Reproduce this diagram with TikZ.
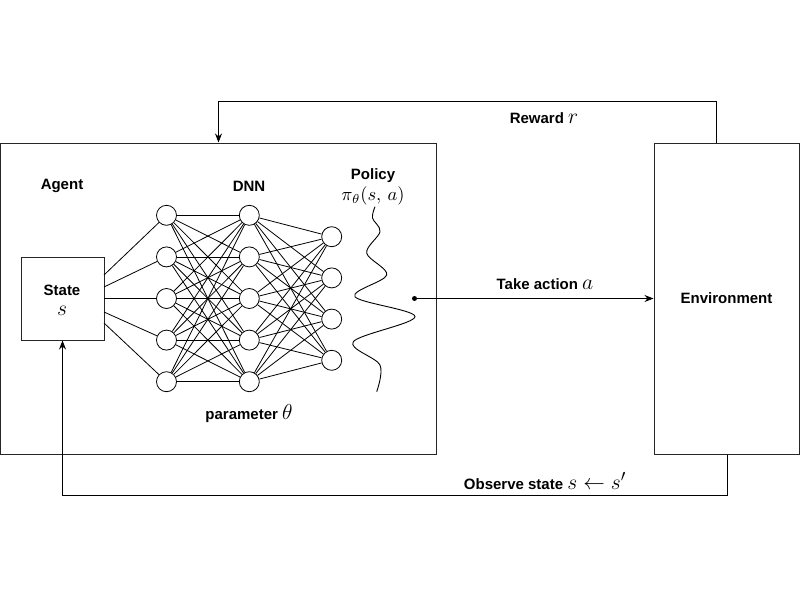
\documentclass[tikz,border=0pt]{standalone}
\usepackage{fontspec}
\usepackage{graphicx}
\setmainfont{Liberation Sans}
\usetikzlibrary{arrows.meta,calc}
\newcommand\mth[1]{\scalebox{1.5}{$#1$}}
\begin{document}
\begin{tikzpicture}[x=1pt,y=-1pt,
  panel/.style={draw=black!85,line width=1pt,inner sep=0pt,rectangle},
  neuron/.style={draw,circle,line width=0.8pt,minimum size=20pt,inner sep=0pt,fill=white},
  lbl/.style={font=\fontsize{15}{18}\selectfont\bfseries,inner sep=1pt},
  arr/.style={line width=0.9pt,-{Stealth[length=9pt,width=7pt]}},
  conn/.style={line width=0.8pt},
]
\useasboundingbox (0,0) rectangle (800,600);
\fill[white] (0,0) rectangle (800,600);

% boxes
\node[panel,minimum width=436pt,minimum height=311pt] (agent) at (218.5,298.5) {};
\node[panel,lbl,minimum width=145pt,minimum height=311pt] (env) at (726.5,298.5) {Environment};
\node[panel,minimum width=83pt,minimum height=83pt] (state) at (62.5,298.5) {};
\node[lbl] (statelbl) at (62,290) {State};
\node[lbl] (statevar) at (62,311) {\mth{s}};

% labels
\node[lbl] (agentlbl) at (62,186) {Agent};
\node[lbl] (dnnlbl) at (249,186) {DNN};
\node[lbl] (pollbl) at (373,176) {Policy};
\node[inner sep=1pt] (pilbl) at (373,196) {\scalebox{1.85}{$\pi_\theta(s,\,a)$}};
\node[lbl] (paramlbl) at (249,414) {parameter \mth{\theta}};
\node[lbl] (rewlbl) at (544,118) {Reward \mth{r}};
\node[lbl] (actlbl) at (545,284) {Take action \mth{a}};
\node[lbl] (obslbl) at (545,481) {Observe state \mth{s \leftarrow s'}};

% neurons
\foreach \i in {1,...,5} {
  \node[neuron] (a\i) at (166.5,{298.5+(\i-3)*41.6}) {};
  \node[neuron] (b\i) at (249.3,{298.5+(\i-3)*41.6}) {};
}
\foreach \i in {1,...,4} {
  \node[neuron] (c\i) at (331.7,{298.5+(\i-2.5)*41.2}) {};
}
\foreach \i in {1,...,5} {
  \foreach \j in {1,...,5} { \draw[conn] (a\i) -- (b\j); }
  \foreach \j in {1,...,4} { \draw[conn] (b\i) -- (c\j); }
}
\foreach \yy [count=\i] in {275,287,298.5,312,323} {
  \coordinate (s\i) at (104,\yy);
  \draw[conn] (s\i) -- (a\i);
}

% policy wave
\draw[line width=0.9pt] plot[smooth,tension=0.55] coordinates {
  (375,206.7) (372.5,218) (380,231.7) (366.7,253) (386.7,275) (355,296.7)
  (415,316.7) (353.3,341.7) (380,365) (376.7,391.7)};

% action
\node[circle,fill,inner sep=0pt,minimum size=5pt] (dot) at (414.5,298.5) {};
\draw[arr] (dot) -- (env.west);

% reward loop
\coordinate (rtop) at (716,101.7);
\draw[arr] (env.north -| rtop) -- (rtop) -| (agent.north);

% observe loop
\coordinate (obot) at (727,495);
\draw[arr] (env.south -| obot) -- (obot) -| (state.south);
\end{tikzpicture}
\end{document}
